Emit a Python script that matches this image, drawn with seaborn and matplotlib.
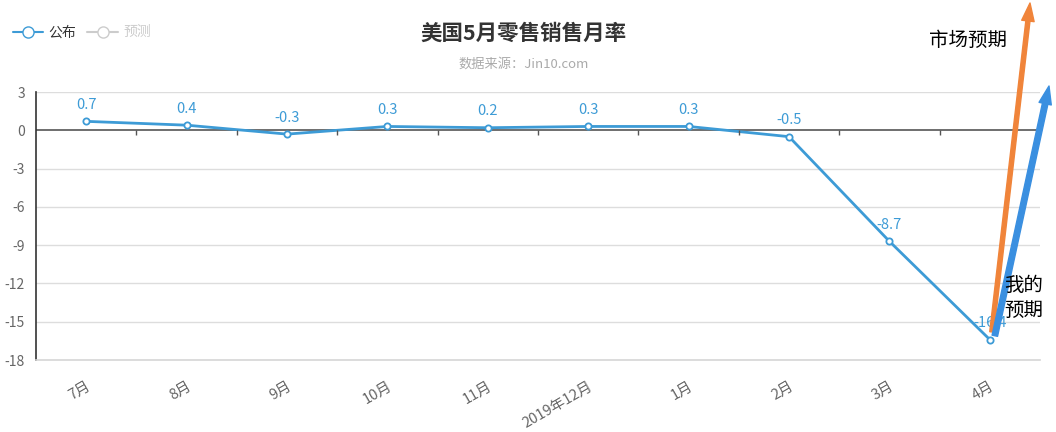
import matplotlib.pyplot as plt
import seaborn as sns
import pandas as pd
import numpy as np
from matplotlib.lines import Line2D

# 数据
months = ["7月", "8月", "9月", "10月", "11月", "2019年12月", "1月", "2月", "3月", "4月"]
values = [0.7, 0.4, -0.3, 0.3, 0.2, 0.3, 0.3, -0.5, -8.7, -16.4]
y_ticks = [3, 0, -3, -6, -9, -12, -15, -18]

line_color = "#3d9bd6"
orange = "#f0843a"
blue_arrow = "#3a8fe0"

sns.set_style("white")
plt.rcParams["font.family"] = ["Noto Sans CJK SC", "DejaVu Sans"]
plt.rcParams["axes.unicode_minus"] = False

df = pd.DataFrame({"月份": months, "公布": values})
df["pos"] = np.arange(len(months))

fig = plt.figure(figsize=(10.56, 4.32), dpi=100)
ax = fig.add_axes([36 / 1056, 1 - 360 / 432, 1004 / 1056, 268 / 432])

sns.lineplot(data=df, x="pos", y="公布", ax=ax, color=line_color, linewidth=2,
             marker="o", markersize=4.5, markerfacecolor="white",
             markeredgecolor=line_color, markeredgewidth=1.3)

for x, v in zip(df["pos"], df["公布"]):
    ax.text(x, v + 0.75, f"{v:g}", ha="center", va="bottom", color=line_color, fontsize=10.5)

ax.set_xlim(-0.5, len(months) - 0.5)
ax.set_ylim(-18, 3)
ax.set_yticks(y_ticks)
ax.set_yticklabels([str(t) for t in y_ticks], color="#666666", fontsize=10)
ax.set_xticks(df["pos"])
ax.set_xticklabels(months, rotation=30, ha="right", rotation_mode="anchor",
                   color="#666666", fontsize=10.5)
ax.tick_params(axis="x", length=0, pad=14)
ax.tick_params(axis="y", length=5, width=1, color="#333333", direction="out", pad=3)
ax.set_xlabel("")
ax.set_ylabel("")

for t in y_ticks:
    if t not in (0, -18):
        ax.axhline(t, color="#dddddd", linewidth=1, zorder=0)
ax.axhline(0, color="#555555", linewidth=1.2, zorder=1)
ax.vlines(np.arange(len(months) - 1) + 0.5, -0.4, 0, color="#555555", linewidth=1)

for s in ["top", "right"]:
    ax.spines[s].set_visible(False)
ax.spines["bottom"].set_color("#d5d5d5")
ax.spines["bottom"].set_linewidth(1.2)
ax.spines["left"].set_color("#333333")
ax.spines["left"].set_linewidth(1.2)

fig.text(0.496, 0.922, "美国5月零售销售月率", ha="center", va="center",
         fontsize=15.5, fontweight="bold", color="#333333")
fig.text(0.496, 0.852, "数据来源：Jin10.com", ha="center", va="center",
         fontsize=9.5, color="#aaaaaa")

handles = [
    Line2D([], [], color=line_color, marker="o", markersize=8, markerfacecolor="white",
           markeredgecolor=line_color, linewidth=1.5),
    Line2D([], [], color="#cccccc", marker="o", markersize=8, markerfacecolor="white",
           markeredgecolor="#cccccc", linewidth=1.5),
]
leg = fig.legend(handles, ["公布", "预测"], loc="upper left", bbox_to_anchor=(0.0, 0.97),
                 ncol=2, frameon=False, fontsize=10, handlelength=2.2, columnspacing=0.8,
                 handletextpad=0.4)
leg.get_texts()[0].set_color("#333333")
leg.get_texts()[1].set_color("#cccccc")

# 箭头
last = len(months) - 1
ax.annotate("", xy=(1030 / 1056, 1 - 3 / 432), xycoords="figure fraction",
            xytext=(last + 0.02, values[-1] + 0.6), textcoords="data",
            arrowprops=dict(arrowstyle="simple,head_length=1.3,head_width=0.9,tail_width=0.3",
                            color=orange, shrinkA=0, shrinkB=0, mutation_scale=10),
            annotation_clip=False)
ax.annotate("", xy=(1049 / 1056, 1 - 86 / 432), xycoords="figure fraction",
            xytext=(last + 0.05, values[-1] + 0.3), textcoords="data",
            arrowprops=dict(arrowstyle="simple,head_length=1.3,head_width=0.9,tail_width=0.4",
                            color=blue_arrow, shrinkA=0, shrinkB=0, mutation_scale=10),
            annotation_clip=False)

fig.text(968 / 1056, 1 - 40 / 432, "市场预期", ha="center", va="center", fontsize=14, color="black")
fig.text(1024 / 1056, 1 - 298 / 432, "我的\n预期", ha="center", va="center", fontsize=14,
         color="black", linespacing=1.2)

fig.savefig("out.png", dpi=100)
